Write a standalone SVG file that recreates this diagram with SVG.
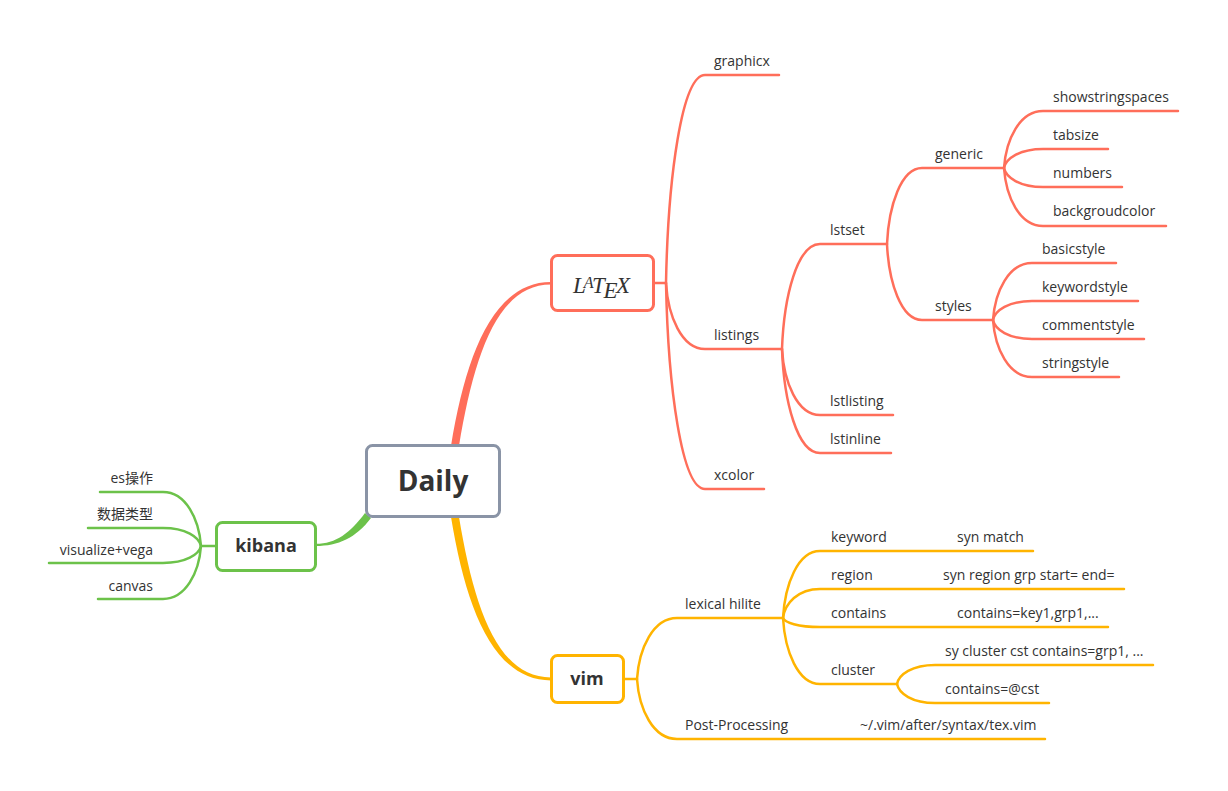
<svg xmlns="http://www.w3.org/2000/svg" width="1228" height="791" viewBox="0 0 1228 791">
<style>
.t{font-family:"Open Sans","Noto Sans CJK SC",sans-serif;font-size:14px;fill:#333}
.e{text-anchor:end}
.b{font-family:"Open Sans",sans-serif;font-weight:bold;fill:#333;text-anchor:middle}
.r{fill:none;stroke:#FF6E5A;stroke-width:2.5;stroke-linecap:round}
.y{fill:none;stroke:#FFB400;stroke-width:2.5;stroke-linecap:round}
.g{fill:none;stroke:#6CC24A;stroke-width:2.5;stroke-linecap:round}
</style>
<rect width="1228" height="791" fill="#fff"/>
<g id="connectors">
  <path d="M451,446 C466,355 493,282 551,282 L551,284.5 C497,284.5 474,356 459,446 Z" fill="#FF6E5A"/>
  <path d="M451,517 C466,608 493,680.5 551,680.5 L551,677.5 C497,677.5 474,607 459,517 Z" fill="#FFB400"/>
  <path d="M365,513 C350,533 336,543.8 316,543.8 L316,546 C338,546 356,538 371,518 Z" fill="#6CC24A"/>
  <path class="r" stroke-width="3" d="M654,283 L666,283"/>
  <path class="r" d="M666,283 C668,179 681.6,75 705,75 L779,75"/>
  <path class="r" d="M666,283 C668,316 681.6,349 705,349 L782,349"/>
  <path class="r" d="M666,283 C668,386 681.6,489 705,489 L764,489"/>
  <path class="r" d="M782,349 C783.9,296.5 797.2,244 820,244 L887,244"/>
  <path class="r" d="M782,349 C783.9,382 797.2,415 820,415 L893,415"/>
  <path class="r" d="M782,349 C783.9,401 797.2,453 820,453 L891,453"/>
  <path class="r" d="M887,244 C888.7,206 901,168 922,168 L1004,168"/>
  <path class="r" d="M887,244 C888.7,282 901,320 922,320 L993,320"/>
  <path class="r" d="M1004,168 C1006,139.5 1019.6,111 1043,111 L1178,111"/>
  <path class="r" d="M1004,168 C1006,158.5 1019.6,149 1043,149 L1108,149"/>
  <path class="r" d="M1004,168 C1006,177.5 1019.6,187 1043,187 L1122,187"/>
  <path class="r" d="M1004,168 C1006,197 1019.6,226 1043,226 L1166,226"/>
  <path class="r" d="M993,320 C995,291.5 1008.6,263 1032,263 L1116,263"/>
  <path class="r" d="M993,320 C995,310.5 1008.6,301 1032,301 L1138,301"/>
  <path class="r" d="M993,320 C995,329.5 1008.6,339 1032,339 L1144,339"/>
  <path class="r" d="M993,320 C995,348.5 1008.6,377 1032,377 L1119,377"/>
  <path class="y" stroke-width="3" d="M624,679 L637,679"/>
  <path class="y" d="M637,679 C639,648.5 653,618 677,618 L783,618"/>
  <path class="y" d="M637,679 C639,709 653,739 677,739 L1045,739"/>
  <path class="y" d="M783,618 C784.9,584.5 797.8,551 820,551 L1033,551"/>
  <path class="y" d="M783,618 C784.9,603.5 797.8,589 820,589 L1124,589"/>
  <path class="y" d="M783,618 C784.9,622.5 797.8,627 820,627 L1108,627"/>
  <path class="y" d="M783,618 C784.9,651 797.8,684 820,684 L897,684"/>
  <path class="y" d="M897,684 C899,674.5 912,665 935,665 L1153,665"/>
  <path class="y" d="M897,684 C899,693.5 912,703 935,703 L1049,703"/>
  <path class="g" stroke-width="3" d="M216,546 L201,546"/>
  <path class="g" d="M201,546 C199,519 185.8,492 163,492 L100,492"/>
  <path class="g" d="M201,546 C199,537 185.8,528 163,528 L88,528"/>
  <path class="g" d="M201,546 C199,554.5 185.8,563 163,563 L49,563"/>
  <path class="g" d="M201,546 C199,572.5 185.8,599 163,599 L98,599"/>
</g>
<g id="daily">
  <rect x="366.5" y="445.5" width="133" height="71" rx="6" fill="#fff" stroke="#8A94A6" stroke-width="3"/>
  <text class="b" x="433" y="491" font-size="28">Daily</text>
</g>
<g id="latex">
  <rect x="551.5" y="255.5" width="102" height="55" rx="6" fill="#fff" stroke="#FF6E5A" stroke-width="3"/>
  <text x="573" y="293" font-family="Liberation Serif,serif" font-style="italic" font-size="23" fill="#333">L<tspan font-size="16" dx="-2" dy="-5">A</tspan><tspan dx="-1.5" dy="5">T</tspan><tspan dx="-1.5" dy="5">E</tspan><tspan dx="-1.5" dy="-5">X</tspan></text>
</g>
<g id="vim">
  <rect x="551.5" y="655.5" width="72" height="47" rx="6" fill="#fff" stroke="#FFB400" stroke-width="3"/>
  <text class="b" x="587" y="685" font-size="18">vim</text>
</g>
<g id="kibana">
  <rect x="216.5" y="522.5" width="99" height="48" rx="6" fill="#fff" stroke="#6CC24A" stroke-width="3"/>
  <text class="b" x="266" y="552" font-size="18">kibana</text>
</g>
<g id="latex-children">
  <text class="t" x="714" y="66">graphicx</text>
  <text class="t" x="714" y="340">listings</text>
  <text class="t" x="714" y="480">xcolor</text>
  <text class="t" x="830" y="235">lstset</text>
  <text class="t" x="830" y="406">lstlisting</text>
  <text class="t" x="830" y="444">lstinline</text>
  <text class="t" x="935" y="159">generic</text>
  <text class="t" x="935" y="311">styles</text>
  <text class="t" x="1053" y="102">showstringspaces</text>
  <text class="t" x="1053" y="140">tabsize</text>
  <text class="t" x="1053" y="178">numbers</text>
  <text class="t" x="1053" y="216">backgroudcolor</text>
  <text class="t" x="1042" y="254">basicstyle</text>
  <text class="t" x="1042" y="292">keywordstyle</text>
  <text class="t" x="1042" y="330">commentstyle</text>
  <text class="t" x="1042" y="368">stringstyle</text>
</g>
<g id="vim-children">
  <text class="t" x="685" y="609">lexical hilite</text>
  <text class="t" x="685" y="730">Post-Processing</text>
  <text class="t" x="831" y="542">keyword</text>
  <text class="t" x="957" y="542">syn match</text>
  <text class="t" x="831" y="580">region</text>
  <text class="t" x="943" y="580">syn region grp start= end=</text>
  <text class="t" x="831" y="618">contains</text>
  <text class="t" x="957" y="618">contains=key1,grp1,...</text>
  <text class="t" x="831" y="675">cluster</text>
  <text class="t" x="945" y="656">sy cluster cst contains=grp1, ...</text>
  <text class="t" x="945" y="694">contains=@cst</text>
  <text class="t" x="860" y="730">~/.vim/after/syntax/tex.vim</text>
</g>
<g id="kibana-children">
  <text class="t e" x="153" y="483">es操作</text>
  <text class="t e" x="153" y="519">数据类型</text>
  <text class="t e" x="153" y="555">visualize+vega</text>
  <text class="t e" x="153" y="591">canvas</text>
</g>
</svg>
